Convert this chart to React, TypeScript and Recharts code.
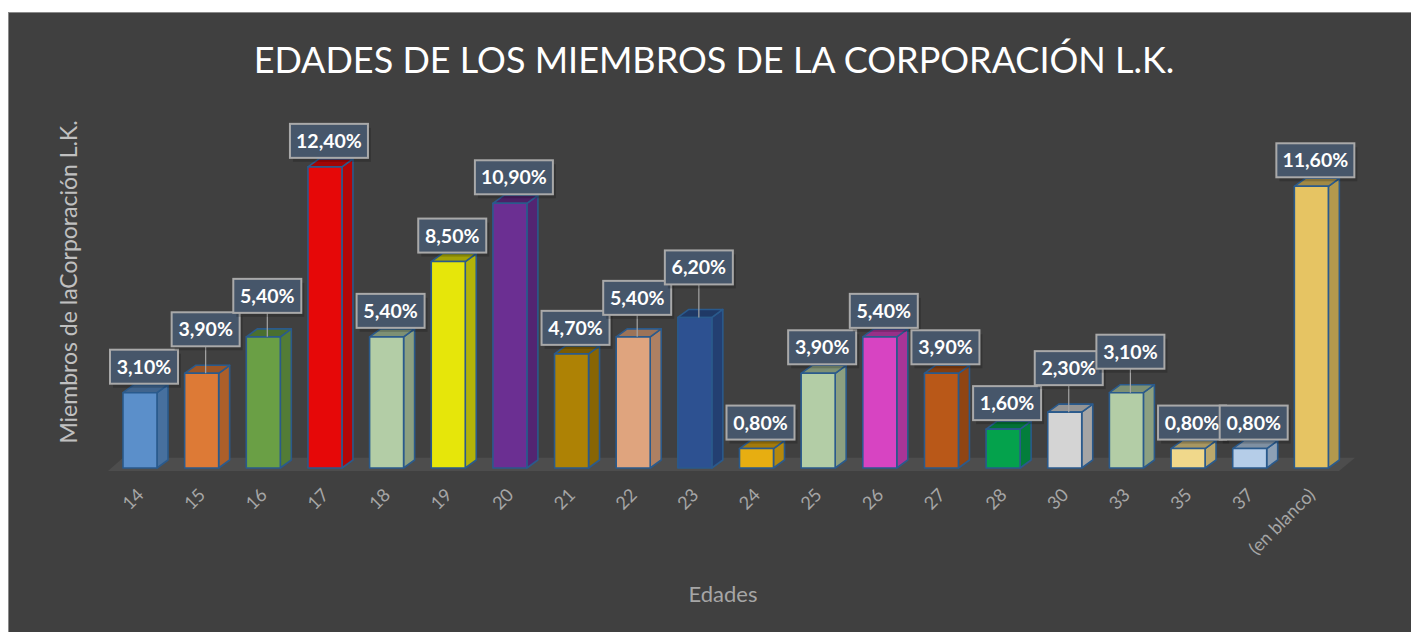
import React from 'react';
import { BarChart, Bar, XAxis, YAxis, Cell, LabelList, ReferenceArea } from 'recharts';

const ages = ['14', '15', '16', '17', '18', '19', '20', '21', '22', '23', '24', '25', '26', '27', '28', '30', '33', '35', '37', '(en blanco)'];
const shares = [3.1, 3.9, 5.4, 12.4, 5.4, 8.5, 10.9, 4.7, 5.4, 6.2, 0.8, 3.9, 5.4, 3.9, 1.6, 2.3, 3.1, 0.8, 0.8, 11.6];
const barColors = [
    '#5b8fca', '#dd7a36', '#6a9f45', '#e60808', '#b3cda6', '#e6e60a', '#6b2f92', '#ae8205', '#dfa47e', '#2d5191',
    '#e7ae11', '#b3cda6', '#d744c2', '#b95818', '#04a24c', '#d4d4d4', '#b3cda6', '#f0d88b', '#b5cde8', '#e6c463',
];

const data = ages.map((age, i) => ({ age, share: shares[i] }));

// labels Excel pushed up with a leader line
const labelLift: Record<string, number> = { '15': 18, '16': 15, '22': 13, '23': 24, '30': 18, '33': 15 };

const DEPTH = 11;
const RISE = 8;

const shade = (hex: string, k: number) => {
    const n = parseInt(hex.slice(1), 16);
    const r = Math.round(((n >> 16) & 255) * k);
    const g = Math.round(((n >> 8) & 255) * k);
    const b = Math.round((n & 255) * k);
    return `rgb(${r},${g},${b})`;
};

const Bar3D = (props: any) => {
    const { x, y, width, height, fill } = props;
    if (height == null || isNaN(height)) return null;
    const fw = width - DEPTH;
    const side = `${x + fw},${y} ${x + width},${y - RISE} ${x + width},${y + height - RISE} ${x + fw},${y + height}`;
    const top = `${x},${y} ${x + DEPTH},${y - RISE} ${x + width},${y - RISE} ${x + fw},${y}`;
    return (
        <g stroke="#2a5a8c" strokeWidth={1.6} strokeLinejoin="round">
            <polygon points={side} fill={shade(fill, 0.78)} />
            <polygon points={top} fill={shade(fill, 0.7)} />
            <rect x={x} y={y} width={fw} height={height} fill={fill} />
        </g>
    );
};

const fmt = (v: number) => v.toFixed(2).replace('.', ',') + '%';

const ValueBox = (props: any) => {
    const { x, y, width, value, index } = props;
    const text = fmt(Number(value));
    const lift = labelLift[ages[index]] || 0;
    const fc = x + (width - DEPTH) / 2;
    const cx = fc + 4;
    const w = 18 + text.length * 10;
    const h = 34;
    const bottom = y - RISE - 1 - lift;
    return (
        <g>
            {lift > 0 && <line x1={cx} y1={bottom} x2={cx} y2={y} stroke="#a6a6a6" strokeWidth={1.2} />}
            <rect x={cx - w / 2 + 3} y={bottom - h + 4} width={w} height={h} fill="#000" opacity={0.18} />
            <rect x={cx - w / 2} y={bottom - h} width={w} height={h} fill="#46566a" stroke="#a9a9a9" strokeWidth={2} />
            <text x={cx} y={bottom - h / 2 + 7} textAnchor="middle" fill="#ffffff" fontSize={19.5} fontWeight={700} fontFamily="Lato">
                {text}
            </text>
        </g>
    );
};

const AgeTick = (props: any) => {
    const { x, y, payload } = props;
    const ax = x - 1;
    const ay = y + 20;
    return (
        <text x={ax} y={ay} transform={`rotate(-45, ${ax}, ${ay})`} textAnchor="end" fill="#a6a6a6" fontSize={18} fontFamily="Lato">
            {payload.value}
        </text>
    );
};

const Floor = (props: any) => {
    const { x, y, width, height } = props;
    const pts = `${x - 7},${y + height + 3} ${x + 8},${y + 2} ${x + width + 7},${y + 2} ${x + width - 9},${y + height + 3}`;
    return <polygon points={pts} fill="#4d4d4d" />;
};

export default function App() {
    return (
        <div
            style={{
                position: 'absolute', left: 8, top: 12, width: 1402, height: 619,
                background: '#404040', borderTop: '1px solid #8a8a8a', borderLeft: '1px solid #8a8a8a',
                overflow: 'hidden',
            }}
        >
            <BarChart width={1402} height={619} data={data} margin={{ top: 115, right: 63, bottom: 104, left: 106 }}>
                <YAxis hide domain={[0, 14]} />
                <XAxis dataKey="age" height={60} interval={0} axisLine={false} tickLine={false} tick={<AgeTick />} />
                <ReferenceArea y1={0} y2={0.5} shape={<Floor />} ifOverflow="visible" />
                <Bar dataKey="share" barSize={45} shape={<Bar3D />} isAnimationActive={false}>
                    {data.map((_, i) => (
                        <Cell key={`c-${i}`} fill={barColors[i]} />
                    ))}
                    <LabelList dataKey="share" content={<ValueBox />} />
                </Bar>
            </BarChart>
            <svg width={1402} height={619} style={{ position: 'absolute', left: 0, top: 0, pointerEvents: 'none' }}>
                <text x={705} y={60} textAnchor="middle" fill="#ffffff" fontSize={36} fontFamily="Lato">
                    EDADES DE LOS MIEMBROS DE LA CORPORACIÓN L.K.
                </text>
                <text x={68} y={269} transform="rotate(-90, 68, 269)" textAnchor="middle" fill="#c0c0c0" fontSize={23} fontFamily="Lato">
                    Miembros de laCorporación L.K.
                </text>
                <text x={714} y={589} textAnchor="middle" fill="#a6a6a6" fontSize={22} fontFamily="Lato">
                    Edades
                </text>
            </svg>
        </div>
    );
}
